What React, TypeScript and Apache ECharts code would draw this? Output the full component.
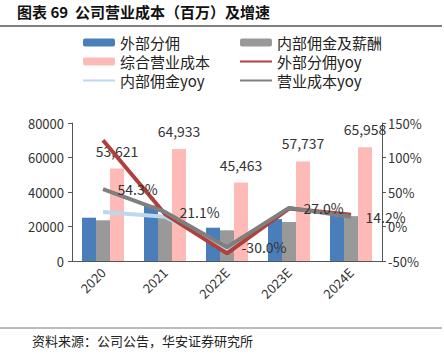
import React, { useEffect, useRef } from "react";
import * as echarts from "echarts";

const categories = ["2020", "2021", "2022E", "2023E", "2024E"];
const externalCommission = [25100, 32200, 19300, 24300, 28400];
const internalCommission = [23600, 26500, 17800, 22600, 26000];
const totalCost = [53621, 64933, 45463, 57737, 65958];
const externalYoy = [125, 18, -39, 26, 17];
const internalYoy = [21, 14, -32, 27, 15];
const costYoy = [54.3, 21.1, -30.0, 27.0, 14.2];

const FONT = '"Noto Sans CJK SC", "Noto Sans", sans-serif';

export default function App() {
  const ref = useRef<HTMLDivElement>(null);
  useEffect(() => {
    if (!ref.current) return;
    const chart = echarts.init(ref.current, undefined, { renderer: "svg" });
    const legendText = { fontSize: 15, color: "#222", fontFamily: FONT, lineHeight: 15 };
    const hideSym = { color: "transparent", borderWidth: 0, opacity: 0 };
    chart.setOption({
      animation: false,
      backgroundColor: "#fff",
      textStyle: { fontFamily: FONT },
      graphic: [
        {
          type: "text",
          left: 17,
          top: 4,
          style: {
            text: "图表 69  公司营业成本（百万）及增速",
            fontSize: 15,
            fontWeight: "bold",
            fill: "#111",
            fontFamily: FONT,
          },
        },
        {
          type: "line",
          shape: { x1: 0, y1: 26, x2: 442, y2: 26 },
          style: { stroke: "#555", lineWidth: 1.5 },
        },
        {
          type: "line",
          shape: { x1: 0, y1: 328, x2: 442, y2: 328 },
          style: { stroke: "#777", lineWidth: 1 },
        },
        {
          type: "text",
          left: 32,
          top: 334,
          style: {
            text: "资料来源：公司公告，华安证券研究所",
            fontSize: 13,
            fill: "#222",
            fontFamily: FONT,
          },
        },
      ],
      legend: [
        {
          orient: "vertical",
          left: 77,
          top: 30,
          itemWidth: 32,
          itemHeight: 8,
          itemGap: 4,
          textStyle: legendText,
          data: [
            { name: "外部分佣" },
            { name: "综合营业成本" },
            { name: "内部佣金yoy", itemStyle: hideSym },
          ],
        },
        {
          orient: "vertical",
          left: 234,
          top: 30,
          itemWidth: 32,
          itemHeight: 8,
          itemGap: 4,
          textStyle: legendText,
          data: [
            { name: "内部佣金及薪酬" },
            { name: "外部分佣yoy", itemStyle: hideSym },
            { name: "营业成本yoy", itemStyle: hideSym },
          ],
        },
      ],
      grid: { left: 72, right: 62, top: 123, bottom: 98 },
      xAxis: {
        type: "category",
        data: categories,
        axisLine: { lineStyle: { color: "#555", width: 1 } },
        axisTick: { show: false },
        axisLabel: { rotate: 45, fontSize: 13, color: "#333", fontFamily: FONT, margin: 9 },
      },
      yAxis: [
        {
          type: "value",
          min: 0,
          max: 80000,
          interval: 20000,
          splitLine: { show: false },
          axisLine: { show: true, lineStyle: { color: "#555" } },
          axisTick: { show: true, length: 4, lineStyle: { color: "#555" } },
          axisLabel: {
            fontSize: 13,
            color: "#333",
            fontFamily: FONT,
            margin: 8,
            formatter: (v: number) => String(v),
          },
        },
        {
          type: "value",
          min: -50,
          max: 150,
          interval: 50,
          splitLine: { show: false },
          axisLine: { show: true, lineStyle: { color: "#555" } },
          axisTick: { show: true, length: 4, lineStyle: { color: "#555" } },
          axisLabel: { fontSize: 13, color: "#333", fontFamily: FONT, formatter: "{value}%", margin: 6 },
        },
      ],
      series: [
        {
          name: "外部分佣",
          type: "bar",
          data: externalCommission,
          barWidth: 14,
          barGap: "0%",
          itemStyle: { color: "#4a7ebb" },
        },
        {
          name: "内部佣金及薪酬",
          type: "bar",
          data: internalCommission,
          barWidth: 14,
          barGap: "0%",
          itemStyle: { color: "#999999" },
        },
        {
          name: "综合营业成本",
          type: "bar",
          data: totalCost,
          barWidth: 14,
          barGap: "0%",
          itemStyle: { color: "#fdbab6" },
          label: {
            show: true,
            position: "top",
            distance: 11,
            fontSize: 14,
            color: "#333",
            fontFamily: FONT,
            formatter: (p: any) => Number(p.value).toLocaleString("en-US"),
          },
        },
        {
          name: "内部佣金yoy",
          type: "line",
          yAxisIndex: 1,
          data: internalYoy,
          symbol: "none",
          lineStyle: { color: "#bdd7ee", width: 4 },
          itemStyle: { color: "#bdd7ee" },
          z: 3,
        },
        {
          name: "外部分佣yoy",
          type: "line",
          yAxisIndex: 1,
          data: externalYoy,
          symbol: "none",
          lineStyle: { color: "#b0403c", width: 4 },
          itemStyle: { color: "#b0403c" },
          z: 4,
        },
        {
          name: "营业成本yoy",
          type: "line",
          yAxisIndex: 1,
          data: costYoy,
          symbol: "circle",
          symbolSize: 1,
          showSymbol: true,
          lineStyle: { color: "#7f7f7f", width: 4 },
          itemStyle: { color: "#7f7f7f", opacity: 0 },
          z: 5,
          label: {
            show: true,
            position: "right",
            distance: 14,
            fontSize: 14,
            color: "#333",
            fontFamily: FONT,
            opacity: 1,
            formatter: (p: any) => Number(p.value).toFixed(1) + "%",
          },
        },
      ],
    });
    return () => chart.dispose();
  }, []);
  return <div ref={ref} style={{ width: 444, height: 359, position: "absolute", left: 0, top: 0 }} />;
}
